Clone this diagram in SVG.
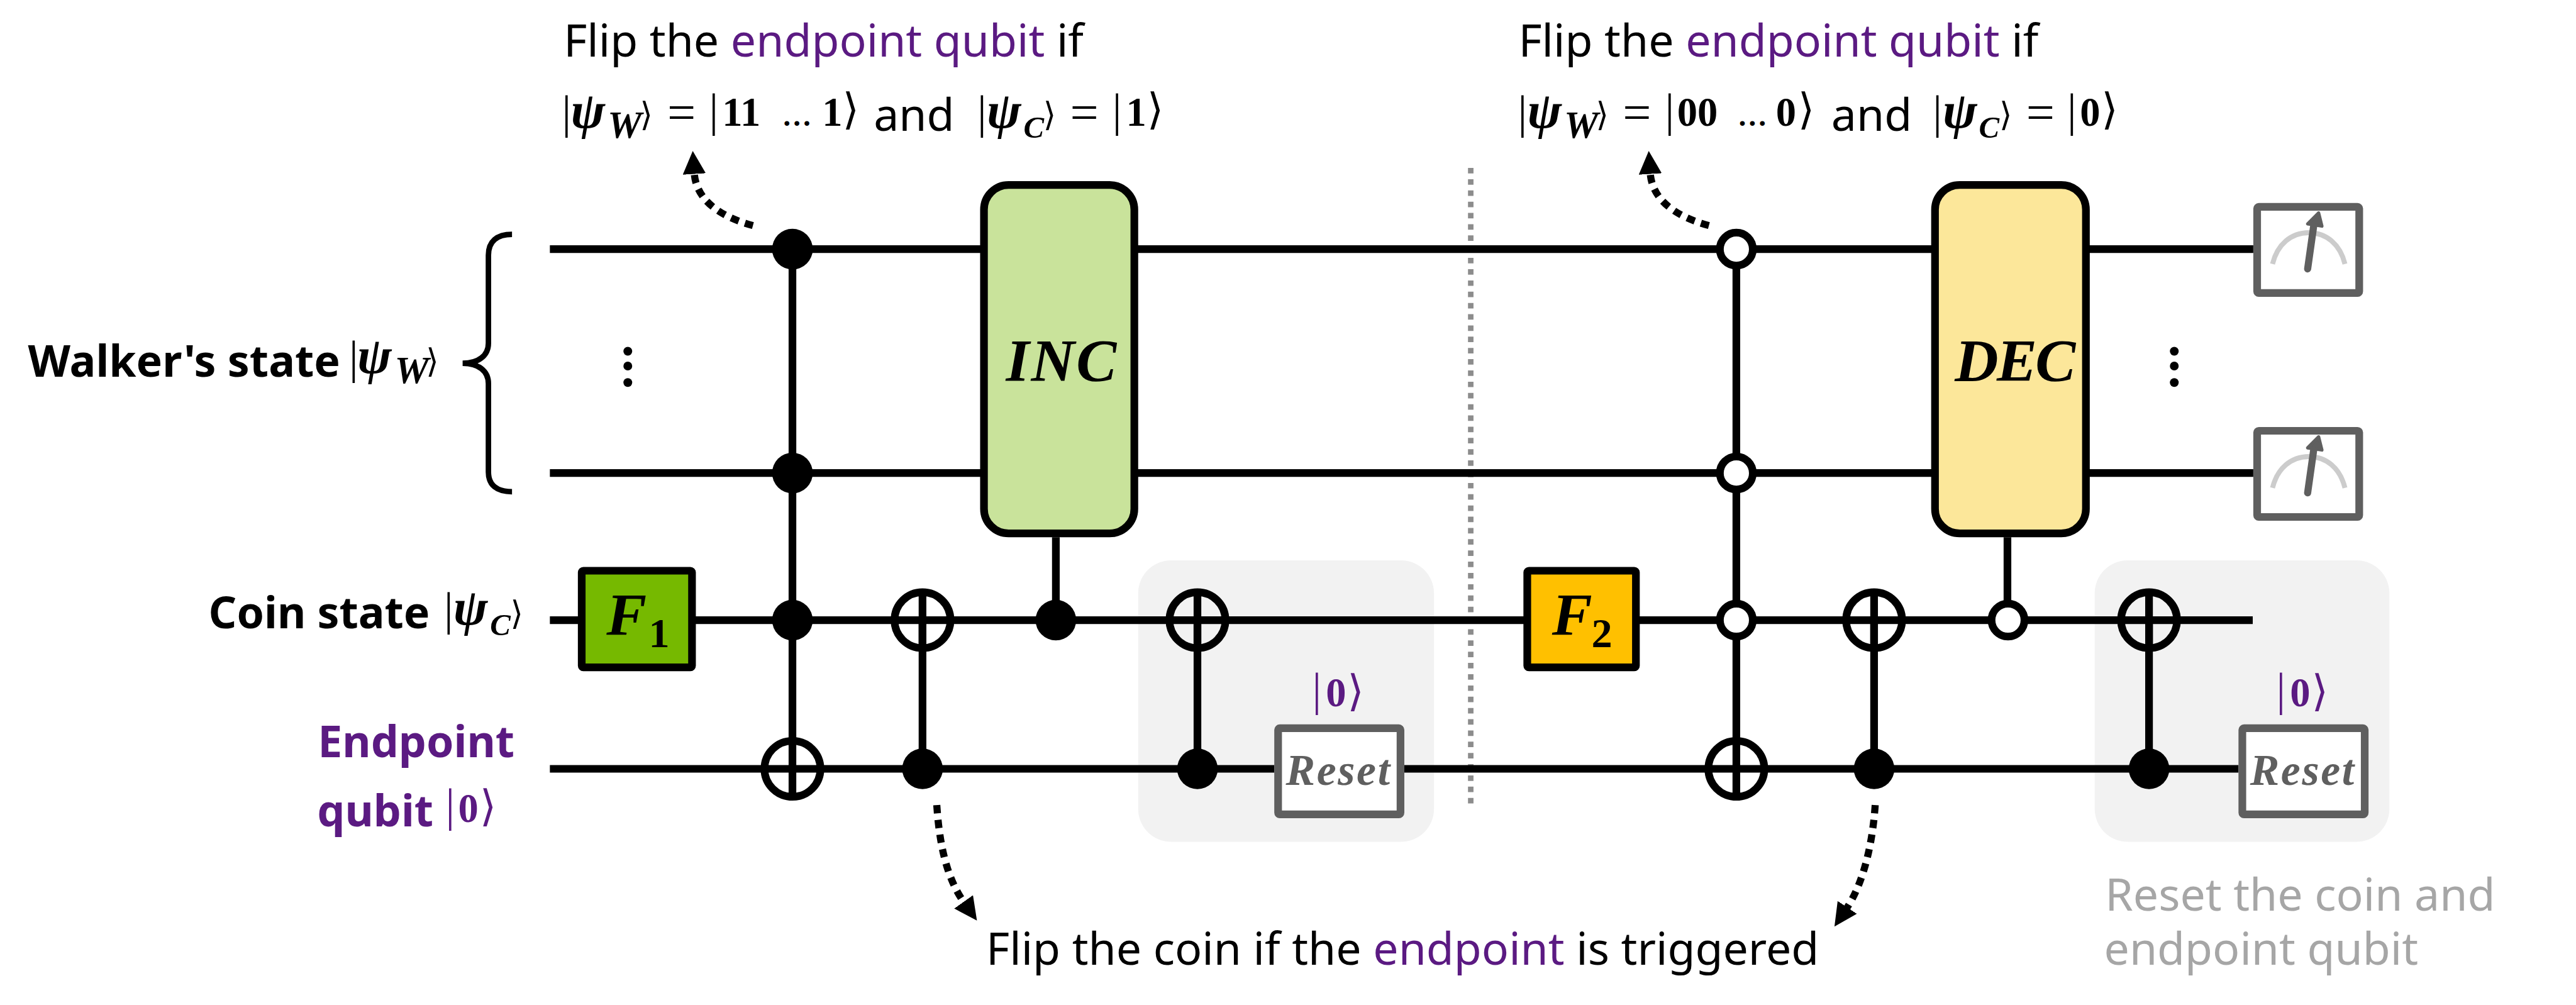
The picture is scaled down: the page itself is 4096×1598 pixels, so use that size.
<svg xmlns="http://www.w3.org/2000/svg" width="4096" height="1598" viewBox="0 0 4096 1598">
<style>
text{white-space:pre}
.t{font:400 82px "Noto Sans",sans-serif;fill:#000}
.b{font:700 80px "Noto Sans",sans-serif;fill:#000}
.p{fill:#5B1A82}
.g{fill:#A6A6A6}
.wire{stroke:#000;stroke-width:14;fill:none}
.box{stroke:#000;stroke-width:14}
.gbox{stroke:#5F5F5F;stroke-width:14;fill:#fff}
.zone{fill:#F2F2F2}
.open{fill:#fff;stroke:#000;stroke-width:14}
.tgt{fill:none;stroke:#000;stroke-width:14}
.dot{fill:#000}
.dash{stroke:#000;stroke-width:13;fill:none;stroke-dasharray:15 12}
.sep{stroke:#8C8C8C;stroke-width:10;stroke-dasharray:10 10.5;fill:none}
.gate{font:italic 700 110px "Liberation Serif",serif;fill:#000}
.sub{font:700 76px "Liberation Serif",serif;fill:#000}
.rst{font:italic 700 80px "Liberation Serif",serif;fill:#5F5F5F}
.psi{font:italic 700 94px "Liberation Serif",serif}
.si{font:italic 700 70px "Liberation Serif",serif}
.sc{font:italic 700 56px "Liberation Serif",serif}
.num{font:700 74px "Liberation Serif",serif}
.ell{font:700 54px "Liberation Serif",serif}
.bar{font:400 84px "Liberation Serif",serif}
.ang{font:400 78px "DejaVu Sans",sans-serif}
.angs{font:400 60px "DejaVu Sans",sans-serif}
.eq{font:400 92px "Liberation Serif",serif}
</style>
<defs>
<marker id="ah" markerUnits="userSpaceOnUse" markerWidth="44" markerHeight="44" refX="2" refY="21" orient="auto"><path d="M0 0L42 21L0 42Z" fill="#000"/></marker>
<g id="meter">
<rect class="gbox" x="4113" y="377" width="186" height="157" rx="3"/>
<path d="M4141 481C4150 445 4175 424 4207 424C4239 424 4264 445 4273 481" fill="none" stroke="#CCC" stroke-width="9"/>
<path d="M4205 490L4217 405" stroke="#5F5F5F" stroke-width="13" stroke-linecap="round" fill="none"/>
<path d="M4225 388L4205 408L4231 412Z" fill="#5F5F5F" stroke="#5F5F5F" stroke-width="6" stroke-linejoin="round"/>
</g>
</defs>
<g transform="scale(0.8726)">
<g id="zones">
<rect class="zone" x="2074" y="1021" width="539" height="513" rx="60"/>
<rect class="zone" x="3817" y="1021" width="537" height="513" rx="60"/>
</g>
<g id="separator"><path class="sep" d="M2680 306V1465"/></g>
<g id="connectors">
<path class="wire" d="M1002 454H4106M1002 862H4106M1002 1130H4105M1002 1401H2322M2559 1401H4079"/>
<path class="wire" d="M1444 454V1451M1681 1130V1401M1924 979V1130M2182 1130V1401M3164 454V1451M3415 1130V1401M3658 979V1130M3916 1130V1401"/>
<path class="dash" d="M1372 411C1305 393 1268 360 1265 315" marker-end="url(#ah)"/>
<path class="dash" d="M3114 411C3047 393 3010 360 3007 315" marker-end="url(#ah)"/>
<path class="dash" d="M1707 1467C1712 1540 1725 1600 1757 1645" marker-end="url(#ah)"/>
<path class="dash" d="M3417 1467C3412 1540 3395 1610 3365 1655" marker-end="url(#ah)"/>
</g>
<g id="brace"><path d="M933 427C905 427 890 440 890 465V625C890 648 872 662 843 662C872 662 890 676 890 699V860C890 884 905 896 933 896" fill="none" stroke="#000" stroke-width="10"/></g>
<g id="walker-dots">
<circle class="dot" cx="1144" cy="640" r="8"/><circle class="dot" cx="1144" cy="667" r="8"/><circle class="dot" cx="1144" cy="697" r="8"/>
<circle class="dot" cx="3962" cy="640" r="8"/><circle class="dot" cx="3962" cy="667" r="8"/><circle class="dot" cx="3962" cy="697" r="8"/>
</g>
<g id="toffoli-1">
<circle class="dot" cx="1444" cy="454" r="37"/><circle class="dot" cx="1444" cy="862" r="37"/><circle class="dot" cx="1444" cy="1130" r="37"/>
<circle class="tgt" cx="1444" cy="1401" r="51"/>
</g>
<g id="cnot-1"><circle class="tgt" cx="1681" cy="1130" r="51"/><path class="wire" d="M1681 1079V1181"/><circle class="dot" cx="1681" cy="1401" r="37"/></g>
<g id="inc-control"><circle class="dot" cx="1924" cy="1130" r="37"/></g>
<g id="cnot-2"><circle class="tgt" cx="2182" cy="1130" r="51"/><path class="wire" d="M2182 1079V1181"/><circle class="dot" cx="2182" cy="1401" r="37"/></g>
<g id="toffoli-2">
<circle class="open" cx="3164" cy="454" r="30"/><circle class="open" cx="3164" cy="862" r="30"/><circle class="open" cx="3164" cy="1130" r="30"/>
<circle class="tgt" cx="3164" cy="1401" r="51"/>
</g>
<g id="cnot-3"><circle class="tgt" cx="3415" cy="1130" r="51"/><path class="wire" d="M3415 1079V1181"/><circle class="dot" cx="3415" cy="1401" r="37"/></g>
<g id="dec-control"><circle class="open" cx="3659" cy="1130" r="30"/></g>
<g id="cnot-4"><circle class="tgt" cx="3916" cy="1130" r="51"/><path class="wire" d="M3916 1079V1181"/><circle class="dot" cx="3916" cy="1401" r="37"/></g>
<g id="f1"><rect class="box" x="1060" y="1040" width="201" height="176" rx="3" fill="#76B900"/><text class="gate" x="1105" y="1157">F</text><text class="sub" x="1182" y="1179">1</text></g>
<g id="f2"><rect class="box" x="2783" y="1040" width="198" height="176" rx="3" fill="#FFC000"/><text class="gate" x="2828" y="1157">F</text><text class="sub" x="2900" y="1179">2</text></g>
<g id="inc"><rect class="box" x="1793" y="337" width="274" height="635" rx="45" fill="#C9E39B"/><text class="gate" x="1833" y="694" letter-spacing="3">INC</text></g>
<g id="dec"><rect class="box" x="3526" y="337" width="275" height="635" rx="45" fill="#FCE79A"/><text class="gate" x="3562" y="694" letter-spacing="-3">DEC</text></g>
<g id="reset-1"><rect class="gbox" x="2329" y="1327" width="223" height="157" rx="3"/><text class="rst" x="2343" y="1430" letter-spacing="3">Reset</text>
<text class="p"><tspan class="bar" x="2391" y="1285">|</tspan><tspan class="num" x="2416" y="1287">0</tspan><tspan class="ang" x="2455" y="1286">⟩</tspan></text></g>
<g id="reset-2"><rect class="gbox" x="4086" y="1327" width="223" height="157" rx="3"/><text class="rst" x="4100" y="1430" letter-spacing="3">Reset</text>
<text class="p"><tspan class="bar" x="4148" y="1285">|</tspan><tspan class="num" x="4173" y="1287">0</tspan><tspan class="ang" x="4212" y="1286">⟩</tspan></text></g>
<g id="meter-1"><use href="#meter"/></g>
<g id="meter-2"><use href="#meter" y="408"/></g>
<g id="label-walker"><text class="b" x="51" y="687">Walker's state</text>
<text><tspan class="bar" x="636" y="680">|</tspan><tspan class="psi" x="651" y="680">ψ</tspan><tspan class="si" x="719" y="698">W</tspan><tspan class="angs" x="776" y="678">⟩</tspan></text></g>
<g id="label-coin"><text class="b" x="380" y="1145">Coin state</text>
<text><tspan class="bar" x="809" y="1138">|</tspan><tspan class="psi" x="826" y="1138">ψ</tspan><tspan class="sc" x="893" y="1158">C</tspan><tspan class="angs" x="930" y="1138">⟩</tspan></text></g>
<g id="label-endpoint"><text class="b p" x="579" y="1380">Endpoint</text><text class="b p" x="578" y="1506">qubit</text>
<text class="p"><tspan class="bar" x="812" y="1496">|</tspan><tspan class="num" x="835" y="1498">0</tspan><tspan class="ang" x="874" y="1496">⟩</tspan></text></g>
<g id="note-1"><text class="t" x="1027" y="103">Flip the <tspan class="p">endpoint qubit</tspan> if</text>
<text><tspan class="bar" x="1024" y="233">|</tspan><tspan class="psi" x="1040" y="233">ψ</tspan><tspan class="si" x="1107" y="251">W</tspan><tspan class="angs" x="1166" y="229">⟩</tspan><tspan class="eq" x="1216" y="236">=</tspan><tspan class="bar" x="1292" y="229">|</tspan><tspan class="num" x="1316" y="229">11</tspan><tspan class="ell" x="1425" y="229">…</tspan><tspan class="num" x="1498" y="229">1</tspan><tspan class="ang" x="1535" y="226">⟩</tspan></text>
<text class="t" x="1592" y="238">and</text>
<text><tspan class="bar" x="1781" y="233">|</tspan><tspan class="psi" x="1798" y="233">ψ</tspan><tspan class="sc" x="1865" y="251">C</tspan><tspan class="angs" x="1901" y="229">⟩</tspan><tspan class="eq" x="1950" y="236">=</tspan><tspan class="bar" x="2027" y="229">|</tspan><tspan class="num" x="2052" y="229">1</tspan><tspan class="ang" x="2090" y="226">⟩</tspan></text></g>
<g id="note-2"><text class="t" x="2767" y="103">Flip the <tspan class="p">endpoint qubit</tspan> if</text>
<text><tspan class="bar" x="2766" y="233">|</tspan><tspan class="psi" x="2783" y="233">ψ</tspan><tspan class="si" x="2850" y="251">W</tspan><tspan class="angs" x="2908" y="229">⟩</tspan><tspan class="eq" x="2957" y="236">=</tspan><tspan class="bar" x="3034" y="229">|</tspan><tspan class="num" x="3056" y="229">00</tspan><tspan class="ell" x="3166" y="229">…</tspan><tspan class="num" x="3236" y="229">0</tspan><tspan class="ang" x="3276" y="226">⟩</tspan></text>
<text class="t" x="3337" y="238">and</text>
<text><tspan class="bar" x="3522" y="233">|</tspan><tspan class="psi" x="3540" y="233">ψ</tspan><tspan class="sc" x="3606" y="251">C</tspan><tspan class="angs" x="3643" y="229">⟩</tspan><tspan class="eq" x="3692" y="236">=</tspan><tspan class="bar" x="3767" y="229">|</tspan><tspan class="num" x="3790" y="229">0</tspan><tspan class="ang" x="3829" y="226">⟩</tspan></text></g>
<g id="note-3"><text class="t" x="1797" y="1758">Flip the coin if the <tspan class="p">endpoint</tspan> is triggered</text></g>
<g id="note-4"><text class="t g" x="3836" y="1659">Reset the coin and</text><text class="t g" x="3834" y="1758">endpoint qubit</text></g>
</g>
</svg>
